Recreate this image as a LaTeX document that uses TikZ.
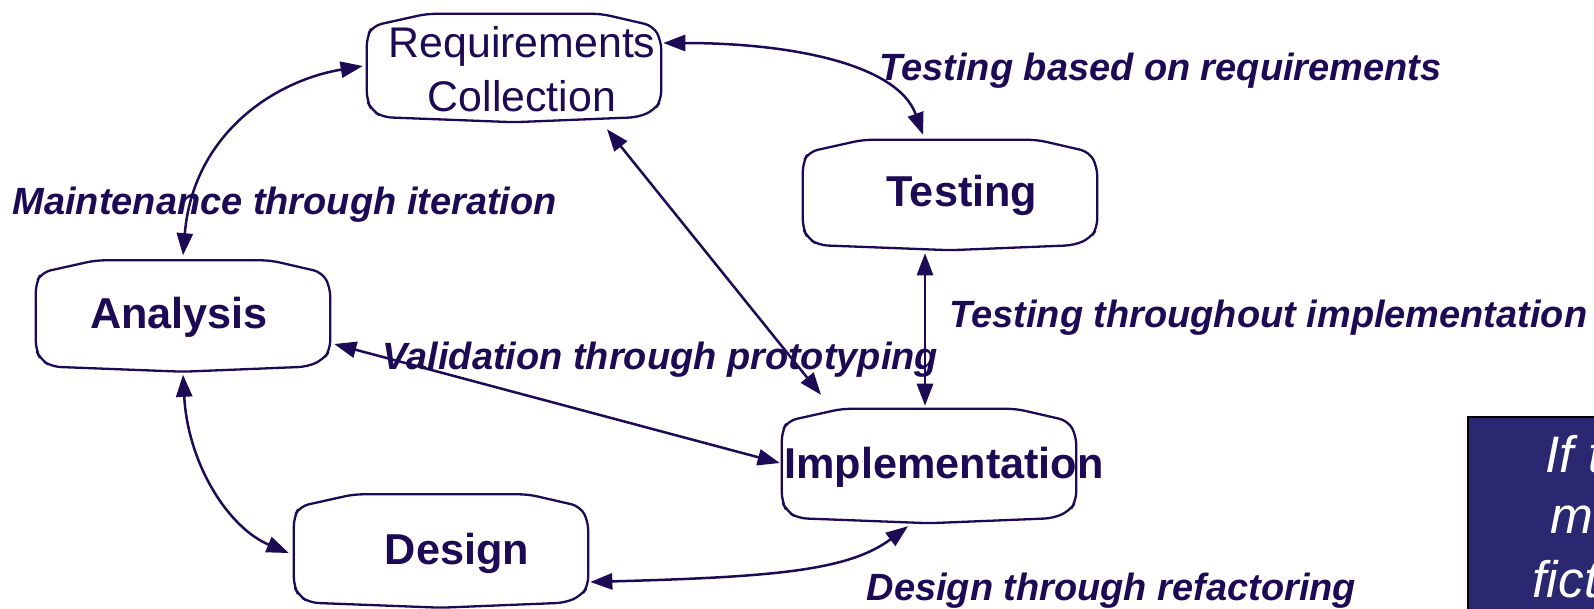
\documentclass[tikz,border=0pt]{standalone}
\usepackage{fontspec}
\setmainfont{Liberation Sans}
\usetikzlibrary{calc,arrows.meta}
\definecolor{ink}{RGB}{28,10,84}
\definecolor{slidenavy}{RGB}{42,40,112}
\newcommand\phaseoutline[1]{\draw[phaseline] ($(#1.north west)+(0,-0.23)$) -- ($(#1.north west)+(0.06,-0.12)$) -- ($(#1.north west)+(0.60,0)$) -- ($(#1.north east)+(-0.60,0)$) -- ($(#1.north east)+(-0.08,-0.12)$) -- ($(#1.north east)+(0,-0.27)$) -- ($(#1.south east)+(0,0.22)$) -- ($(#1.south east)+(-0.07,0.12)$) -- ($(#1.south east)+(-0.23,0.05)$) -- (#1.south) -- ($(#1.south west)+(0.16,0.05)$) -- ($(#1.south west)+(0.05,0.12)$) -- ($(#1.south west)+(0,0.22)$) -- cycle;}

\begin{document}
\begin{tikzpicture}[
	phase/.style={minimum width=2.93cm, minimum height=1.1cm, inner sep=0pt},
	phaseline/.style={line width=0.23mm, color=ink, line join=round, rounded corners=2.5pt},
	phasetext/.style={font=\fontsize{12.3}{15.3}\selectfont\bfseries, text=ink, inner sep=0pt, anchor=base},
	flowlabel/.style={font=\fontsize{10.8}{13}\selectfont\bfseries\itshape, text=ink, inner sep=0pt, anchor=base west},
	notetext/.style={font=\fontsize{14.6}{18}\selectfont\itshape, text=white, inner sep=0pt, anchor=base west},
	link/.style={line width=0.25mm, color=ink, {Triangle[length=6.3pt,width=4.6pt]}-{Triangle[length=6.3pt,width=4.6pt]}}
	]
		%%%%% START %%%%%
		\useasboundingbox (0,0) rectangle (15.94,6.08);
		
		\node[phase, minimum height=1.07cm] (req) at (5.14,5.40) {};
		\node[phase, minimum height=1.09cm] (test) at (9.50,4.13) {};
		\node[phase] (anal) at (1.83,2.92) {};
		\node[phase, minimum height=1.13cm] (impl) at (9.29,1.42) {};
		\node[phase, minimum height=1.12cm] (dsgn) at (4.41,0.57) {};
		
		\phaseoutline{req}
		\phaseoutline{test}
		\phaseoutline{anal}
		\phaseoutline{impl}
		\phaseoutline{dsgn}
		
		\node[phasetext, font=\fontsize{12.2}{15.3}\selectfont, align=center, anchor=center] (req-t) at (5.22,5.385) {Requirements\\Collection};
		\node[phasetext] (test-t) at (9.62,4.02) {Testing};
		\node[phasetext] (anal-t) at (1.79,2.80) {Analysis};
		\node[phasetext] (impl-t) at (9.44,1.30) {Implementation};
		\node[phasetext] (dsgn-t) at (4.57,0.44) {Design};
		
		\draw[link] ($(anal.north)+(0,0.05)$) .. controls +(0.1,1.2) and +(-0.9,-0.15) .. ($(req.west)+(-0.04,0.02)$);
		\draw[link] ($(req.east)+(0.02,0.25)$) .. controls +(1.3,0) and +(-0.25,0.7) .. ($(test.north)+(-0.27,0.05)$);
		\draw[link] ($(req.south)+(0.93,-0.07)$) -- ($(impl.north)+(-1.08,0.14)$);
		\draw[link] ($(test.south)+(-0.25,-0.03)$) -- ($(impl.north)+(-0.04,0.03)$);
		\draw[link] ($(anal.east)+(0.04,-0.28)$) -- ($(impl.west)+(-0.02,0.03)$);
		\draw[link] ($(anal.south)+(0,-0.03)$) .. controls +(0.05,-0.9) and +(-0.6,0.25) .. ($(dsgn.west)+(-0.05,-0.02)$);
		\draw[link] ($(dsgn.east)+(0.02,-0.31)$) .. controls +(1.8,0.05) and +(-0.6,-0.45) .. ($(impl.south)+(-0.21,-0.03)$);
		
		\node[flowlabel] (lbltest) at (8.79,5.28) {Testing based on requirements};
		\node[flowlabel] (lblmaint) at (0.12,3.94) {Maintenance through iteration};
		\node[flowlabel] (lblthru) at (9.49,2.81) {Testing throughout implementation};
		\node[flowlabel] (lblvalid) at (3.82,2.39) {Validation through prototyping};
		\node[flowlabel] (lblrefac) at (8.66,0.08) {Design through refactoring};
		
		\draw[fill=slidenavy, draw=black, line width=0.2mm] (14.68,1.91) rectangle (16.2,-0.2);
		\node[notetext] (note1) at (15.45,1.36) {If t};
		\node[notetext] (note2) at (15.50,0.75) {m};
		\node[notetext] (note3) at (15.32,0.11) {fict};
		%%%%% END %%%%%
\end{tikzpicture}
\end{document}
